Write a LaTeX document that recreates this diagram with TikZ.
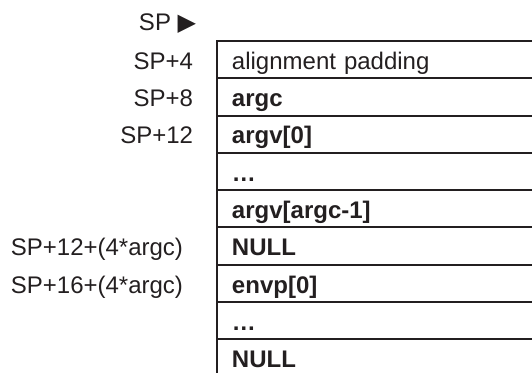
\documentclass[tikz,border=0pt]{standalone}
\usepackage{fontspec}
\setmainfont{Liberation Sans}
\newfontfamily\symfont{DejaVu Sans}
\usetikzlibrary{positioning}
\definecolor{ink}{HTML}{231F20}
\begin{document}
\begin{tikzpicture}[x=0.5pt,y=-0.5pt,
	every node/.style={text=ink,font=\fontsize{12}{14.4}\selectfont},
	cell/.style={draw=ink,line width=1pt,outer sep=0pt,inner xsep=7.5pt,inner ysep=0pt,
		minimum height=18.65pt,text width=160pt,text height=9.65pt,text depth=0pt,align=left},
	addr/.style={inner sep=0pt,outer sep=0pt,text height=9.65pt,text depth=0pt}]
			\useasboundingbox (0,0) rectangle (532,373);
			\clip (0,0) rectangle (532,373); % the stack runs on past the edge
			% stack cells, top to bottom
			\node[cell,anchor=north west] (pad) at (217,41) {alignment padding};
			\node[cell,below=0pt of pad] (argc) {\textbf{argc}};
			\node[cell,below=0pt of argc] (argvA) {\textbf{argv[0]}};
			\node[cell,below=0pt of argvA] (dotsA) {\textbf{…}};
			\node[cell,below=0pt of dotsA] (argvN) {\textbf{argv[argc-1]}};
			\node[cell,below=0pt of argvN] (nullA) {\textbf{NULL}};
			\node[cell,below=0pt of nullA] (envpA) {\textbf{envp[0]}};
			\node[cell,below=0pt of envpA] (dotsB) {\textbf{…}};
			\node[cell,below=0pt of dotsB] (nullB) {\textbf{NULL}};
			% addresses on the left
			\node[addr,anchor=base west] (sp) at (139,31) {SP {\symfont ▶}};
			\node[addr,left=12pt of pad] (spA) {SP+4};
			\node[addr,left=12pt of argc] (spB) {SP+8};
			\node[addr,left=12pt of argvA] (spC) {SP+12};
			\node[addr,left=17pt of nullA] (spD) {SP+12+(4*argc)};
			\node[addr,left=17pt of envpA] (spE) {SP+16+(4*argc)};
\end{tikzpicture}
\end{document}
